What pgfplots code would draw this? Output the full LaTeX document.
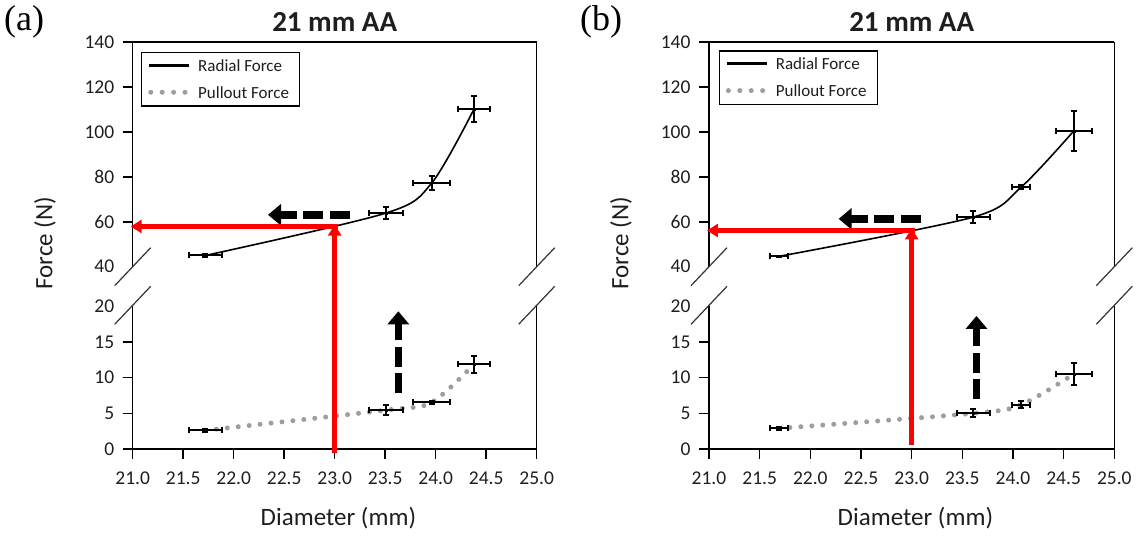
\documentclass[border=0pt]{standalone}
\usepackage{pgfplots}
\usepackage{pgfplotstable}
\pgfplotsset{compat=1.18}
\usepackage{fontspec}
\setmainfont{Carlito}
\newfontfamily\serifA{Liberation Serif}
\usetikzlibrary{arrows.meta}
\definecolor{pullgray}{RGB}{158,158,158}
\definecolor{txt}{RGB}{30,30,30}
\definecolor{redl}{RGB}{255,0,0}

\pgfplotstableread{
x y ex ey
21.72 45.0 0.16 0.7
23.51 63.9 0.17 2.7
23.96 77.2 0.18 3.1
24.38 110.2 0.16 5.9
}\radA
\pgfplotstableread{
x y ex ey
21.72 2.62 0.16 0.18
23.51 5.45 0.17 0.7
23.96 6.55 0.18 0.22
24.38 11.9 0.16 1.2
}\pullA
\pgfplotstableread{
x y ex ey
21.69 44.6 0.09 0.3
23.61 62.1 0.165 2.7
24.08 75.4 0.09 1.0
24.60 100.4 0.18 8.9
}\radB
\pgfplotstableread{
x y ex ey
21.69 2.9 0.09 0.25
23.61 5.0 0.165 0.55
24.08 6.2 0.09 0.5
24.60 10.5 0.18 1.5
}\pullB

\tikzset{
  dasharrow/.style={black, line width=7.5pt, dash pattern=on 20pt off 6.5pt, -{Triangle[length=13pt,width=21pt]}},
  redarrow/.style={redl, line width=4.5pt, -{Triangle[length=11pt,width=13pt]}},
  brkline/.style={line width=1.2pt, black!80},
}

\pgfplotsset{
  brk/.style={scale only axis, xmin=21, xmax=25, clip=false,
    separate axis lines,
    axis line style={line width=1.5pt, black, -},
    tick align=outside, major tick length=10pt,
    tick style={line width=1.5pt, black},
    ytick pos=left,
    /pgf/number format/assume math mode=true,
    ticklabel style={font=\fontsize{19.5}{23}\selectfont, text=txt},
    yticklabel shift=5pt,
  },
  upper/.style={brk, height=224.7pt, ymin=40, ymax=140,
    axis x line*=top, axis y line*=box, xtick=\empty,
    ytick={60,80,100,120,140}, extra y ticks={40},
    extra y tick style={tick style={draw=none}},
  },
  lower/.style={brk, height=142.7pt, ymin=0, ymax=20,
    axis x line*=bottom, axis y line*=box,
    xtick={21,21.5,22,22.5,23,23.5,24,24.5,25},
    xticklabel shift=9pt,
    xticklabel style={/pgf/number format/.cd, fixed, fixed zerofill, precision=1},
    ytick={0,5,10,15}, extra y ticks={20},
    extra y tick style={tick style={draw=none}},
  },
  errbar/.style={forget plot, only marks, mark=square*, mark size=1pt, black,
    error bars/.cd, x dir=both, x explicit, y dir=both, y explicit,
    error mark=-,
    error bar style={line width=2pt, black},
    error mark options={rotate=90, line width=2pt, mark size=3pt, black}},
  radline/.style={black, line width=1.6pt, smooth, forget plot},
  pullline/.style={pullgray, line width=5pt, line cap=round, dash pattern=on 0pt off 11pt, smooth, forget plot},
}

% legend box drawn at lower-left corner (#1,#2)
\newcommand\mylegend[2]{%
  \draw[line width=1.3pt, black, fill=white] (#1,#2) rectangle ++(158,53.3);
  \draw[black, line width=3pt] (#1+7.6,#2+40.3) -- ++(40,0);
  \draw[pullgray, line width=5pt, line cap=round, dash pattern=on 0pt off 11.4pt] (#1+9.1,#2+13.7) -- ++(36,0);
  \node[anchor=west, inner sep=0pt, text=txt, font=\fontsize{17}{20}\selectfont] at (#1+56.3,#2+40.3) {Radial Force};
  \node[anchor=west, inner sep=0pt, text=txt, font=\fontsize{17}{20}\selectfont] at (#1+56.3,#2+13.7) {Pullout Force};
}

\begin{document}
\begin{tikzpicture}[x=1pt,y=1pt]
% ---------------- panel (a) ----------------
\begin{axis}[upper, at={(132.7pt,269.3pt)}, anchor=south west, width=404pt]
\addplot[radline] table[x=x,y=y]{\radA};
\addplot[errbar] table[x=x,y=y,x error=ex,y error=ey]{\radA};
\draw[dasharrow] (axis cs:23.15,63.1) -- (axis cs:22.34,63.1);
\coordinate (aRtop) at (axis cs:23.0,58.7);
\coordinate (aRh1) at (axis cs:23.03,57.9);
\coordinate (aRh2) at (axis cs:20.98,57.9);
\end{axis}
\begin{axis}[lower, at={(132.7pt,87pt)}, anchor=south west, width=404pt]
\addplot[pullline] table[x=x,y=y]{\pullA};
\addplot[errbar] table[x=x,y=y,x error=ex,y error=ey]{\pullA};
\draw[dasharrow] (axis cs:23.63,7.8) -- (axis cs:23.63,19.3);
\coordinate (aRbot) at (axis cs:23.0,-0.55);
\end{axis}
\mylegend{141.7}{430}
\draw[redarrow] (aRbot) -- (aRtop);
\draw[redarrow] (aRh1) -- (aRh2);
% break marks (a)
\draw[brkline] (114.7,250.3) -- (150.7,288.3);
\draw[brkline] (114.7,211.7) -- (150.7,249.7);
\draw[brkline] (518.7,250.3) -- (554.7,288.3);
\draw[brkline] (518.7,211.7) -- (554.7,249.7);
\node[anchor=base, inner sep=0pt, text=txt, font=\bfseries\fontsize{29}{34}\selectfont] at (334.7,504.3) {21 mm AA};
\node[anchor=base west, inner sep=0pt, text=black, font=\serifA\fontsize{36}{40}\selectfont] at (4,505.5) {(a)};
\node[anchor=base, inner sep=0pt, text=txt, font=\fontsize{25}{30}\selectfont] at (338.4,11) {Diameter (mm)};
\node[rotate=90, inner sep=0pt, text=txt, font=\fontsize{25}{30}\selectfont] at (45,292.7) {Force (N)};

% ---------------- panel (b) ----------------
\begin{axis}[upper, at={(709pt,269.3pt)}, anchor=south west, width=405.3pt]
\addplot[radline] table[x=x,y=y]{\radB};
\addplot[errbar] table[x=x,y=y,x error=ex,y error=ey]{\radB};
\draw[dasharrow] (axis cs:23.09,61.3) -- (axis cs:22.28,61.3);
\coordinate (bRtop) at (axis cs:23.0,57.0);
\coordinate (bRh1) at (axis cs:23.03,56.1);
\coordinate (bRh2) at (axis cs:20.98,56.1);
\end{axis}
\begin{axis}[lower, at={(709pt,87pt)}, anchor=south west, width=405.3pt]
\addplot[pullline] table[x=x,y=y]{\pullB};
\addplot[errbar] table[x=x,y=y,x error=ex,y error=ey]{\pullB};
\draw[dasharrow] (axis cs:23.64,7.0) -- (axis cs:23.64,18.65);
\coordinate (bRbot) at (axis cs:23.0,0.56);
\end{axis}
\mylegend{719.3}{431.7}
\draw[redarrow] (bRbot) -- (bRtop);
\draw[redarrow] (bRh1) -- (bRh2);
% break marks (b)
\draw[brkline] (691,250.3) -- (727,288.3);
\draw[brkline] (691,211.7) -- (727,249.7);
\draw[brkline] (1096.3,250.3) -- (1132.3,288.3);
\draw[brkline] (1096.3,211.7) -- (1132.3,249.7);
\node[anchor=base, inner sep=0pt, text=txt, font=\bfseries\fontsize{29}{34}\selectfont] at (911.7,504.3) {21 mm AA};
\node[anchor=base west, inner sep=0pt, text=black, font=\serifA\fontsize{36}{40}\selectfont] at (580,505.5) {(b)};
\node[anchor=base, inner sep=0pt, text=txt, font=\fontsize{25}{30}\selectfont] at (915.4,11) {Diameter (mm)};
\node[rotate=90, inner sep=0pt, text=txt, font=\fontsize{25}{30}\selectfont] at (621,292.7) {Force (N)};

\pgfresetboundingbox
\useasboundingbox (0,0) rectangle (1140,536);
\end{tikzpicture}
\end{document}
